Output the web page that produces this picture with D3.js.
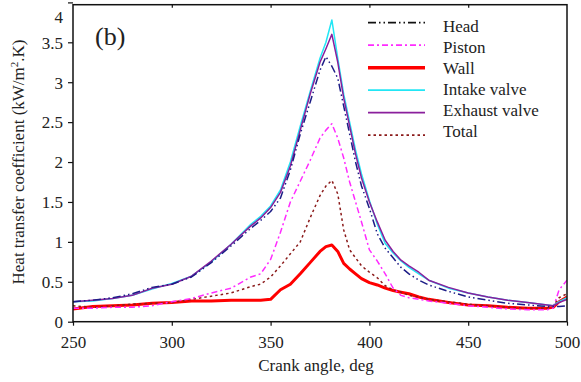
<!DOCTYPE html>
<html>
<head>
<meta charset="utf-8">
<script src="https://cdn.jsdelivr.net/npm/d3@7/dist/d3.min.js"></script>
<style>
  body { margin: 0; background: #fff; }
  svg text { font-family: "Liberation Serif", "Times New Roman", serif; fill: #222; }
</style>
</head>
<body>
<div id="graphicContainer"></div>
<script>

// crank angle samples (deg)
const angles = [250, 260, 270, 280, 290, 300, 310, 320, 330, 340, 345, 350, 355, 360, 365, 370, 375, 378, 381, 384, 387, 390, 393, 396, 400, 404, 408, 412, 416, 420, 425, 430, 440, 450, 460, 470, 480, 490, 493, 496, 500]

// heat transfer coefficient, kW/m2.K
const head    = [0.25, 0.27, 0.30, 0.35, 0.43, 0.47, 0.56, 0.74, 0.95, 1.17, 1.27, 1.38, 1.55, 1.90, 2.35, 2.75, 3.15, 3.32, 3.20, 3.05, 2.70, 2.35, 2.00, 1.70, 1.42, 1.10, 0.92, 0.80, 0.68, 0.60, 0.52, 0.46, 0.38, 0.31, 0.27, 0.23, 0.21, 0.19, 0.19, 0.19, 0.20]
const piston  = [0.17, 0.17, 0.18, 0.18, 0.20, 0.25, 0.29, 0.36, 0.42, 0.56, 0.60, 0.78, 1.12, 1.50, 1.76, 2.02, 2.30, 2.40, 2.48, 2.30, 2.05, 1.75, 1.50, 1.25, 0.90, 0.76, 0.60, 0.42, 0.33, 0.30, 0.28, 0.26, 0.23, 0.20, 0.18, 0.16, 0.15, 0.15, 0.17, 0.40, 0.52]
const wall    = [0.16, 0.19, 0.20, 0.21, 0.23, 0.24, 0.26, 0.26, 0.27, 0.27, 0.27, 0.28, 0.40, 0.47, 0.60, 0.74, 0.88, 0.94, 0.96, 0.88, 0.73, 0.66, 0.60, 0.54, 0.49, 0.46, 0.42, 0.39, 0.37, 0.35, 0.31, 0.28, 0.24, 0.21, 0.20, 0.18, 0.17, 0.17, 0.18, 0.25, 0.31]
const intake  = [0.25, 0.26, 0.29, 0.33, 0.41, 0.48, 0.57, 0.75, 0.97, 1.22, 1.32, 1.45, 1.65, 2.00, 2.45, 2.88, 3.30, 3.50, 3.78, 3.30, 2.85, 2.50, 2.15, 1.85, 1.52, 1.22, 0.98, 0.86, 0.76, 0.68, 0.60, 0.52, 0.42, 0.36, 0.31, 0.27, 0.24, 0.21, 0.20, 0.25, 0.30]
const exhaust = [0.25, 0.27, 0.29, 0.33, 0.42, 0.47, 0.57, 0.76, 0.97, 1.20, 1.30, 1.43, 1.62, 1.95, 2.40, 2.85, 3.25, 3.42, 3.60, 3.25, 2.80, 2.45, 2.10, 1.80, 1.50, 1.25, 1.02, 0.88, 0.77, 0.70, 0.62, 0.52, 0.43, 0.36, 0.31, 0.27, 0.24, 0.21, 0.20, 0.24, 0.28]
const total   = [0.20, 0.18, 0.20, 0.22, 0.23, 0.24, 0.28, 0.32, 0.36, 0.44, 0.47, 0.56, 0.70, 0.85, 1.00, 1.30, 1.58, 1.70, 1.77, 1.60, 1.15, 0.90, 0.80, 0.70, 0.62, 0.55, 0.45, 0.40, 0.37, 0.33, 0.31, 0.28, 0.25, 0.22, 0.20, 0.18, 0.17, 0.17, 0.20, 0.30, 0.35]

const xTicks = [250, 300, 350, 400, 450, 500]
const yTicks = [0, 0.5, 1, 1.5, 2, 2.5, 3, 3.5, 4]

const series = [
  { key: "Head", values: head, color: "#1c1c86", keyColor: "#111", width: 1.5, dash: "8 3 1.5 3 1.5 3" },
  { key: "Piston", values: piston, color: "#ff2bff", keyColor: "#ff2bff", width: 1.5, dash: "6 3 2 3" },
  { key: "Wall", values: wall, color: "#ff0000", keyColor: "#ff0000", width: 3, dash: null },
  { key: "Intake valve", values: intake, color: "#22e6f5", keyColor: "#22e6f5", width: 1.5, dash: null },
  { key: "Exhaust valve", values: exhaust, color: "#8a1f9c", keyColor: "#8a1f9c", width: 1.5, dash: null },
  { key: "Total", values: total, color: "#8b1a1a", keyColor: "#8b1a1a", width: 1.5, dash: "2.5 3" }
]

// draw order: wall at the back, cyan behind purple
const drawOrder = ["Wall", "Total", "Piston", "Intake valve", "Exhaust valve", "Head"]

const width = 581
const height = 382
const marginleft = 73
const marginright = 14
const margintop = 4.7
const marginbottom = 60.3

const svg = d3.select("#graphicContainer")
  .append("svg")
  .attr("width", width)
  .attr("height", height)

const x = d3.scaleLinear()
  .domain([250, 500])
  .range([marginleft, width - marginright])

const y = d3.scaleLinear()
  .domain([0, 4])
  .range([height - marginbottom, 2.4])

const plotTop = margintop
const plotBottom = height - marginbottom

// clip so lines stay inside frame
svg.append("clipPath")
  .attr("id", "plotClip")
  .append("rect")
  .attr("x", marginleft)
  .attr("y", plotTop)
  .attr("width", x(500) - marginleft)
  .attr("height", plotBottom - plotTop)

const line = d3.line()
  .x(d => x(d[0]))
  .y(d => y(d[1]))

const lines = svg.append("g").attr("clip-path", "url(#plotClip)")

drawOrder.forEach(k => {
  const s = series.find(d => d.key == k)
  lines.append("path")
    .datum(angles.map((a, i) => [a, s.values[i]]))
    .attr("fill", "none")
    .attr("stroke", s.color)
    .attr("stroke-width", s.width)
    .attr("stroke-dasharray", s.dash)
    .attr("stroke-linejoin", "round")
    .attr("d", line)
})

// frame
svg.append("rect")
  .attr("x", marginleft)
  .attr("y", plotTop)
  .attr("width", x(500) - marginleft)
  .attr("height", plotBottom - plotTop)
  .attr("fill", "none")
  .attr("stroke", "#111")
  .attr("stroke-width", 1.5)

const yAxis = d3.axisLeft(y)
  .tickValues(yTicks)
  .tickSize(5)
  .tickPadding(5)
  .tickFormat(d => d)

const yG = svg.append("g")
  .attr("class", "y")
  .attr("transform", "translate(" + marginleft + ",0)")
  .call(yAxis)

yG.select(".domain").remove()
yG.selectAll(".tick line").attr("stroke", "#111").attr("stroke-width", 1.2)
yG.selectAll(".tick text")
  .style("font-size", "17px")
  .attr("fill", "#222")
  .attr("dy", d => d == 4 ? "1.2em" : "0.34em")

const xAxis = d3.axisBottom(x)
  .tickValues(xTicks)
  .tickSize(4)
  .tickPadding(10)

const xG = svg.append("g")
  .attr("class", "x")
  .attr("transform", "translate(0," + plotBottom + ")")
  .call(xAxis)

xG.select(".domain").remove()
xG.selectAll(".tick line").attr("stroke", "#111").attr("stroke-width", 1.2)
xG.selectAll(".tick text").style("font-size", "17px").attr("fill", "#222")

// small inward ticks along the top
const topG = svg.append("g")
  .attr("transform", "translate(0," + plotTop + ")")
  .call(d3.axisTop(x).tickValues(xTicks.slice(1, -1)).tickSize(-3).tickFormat(""))

topG.select(".domain").remove()
topG.selectAll(".tick line").attr("stroke", "#111").attr("stroke-width", 1.2)

// axis titles
svg.append("text")
  .attr("x", 316)
  .attr("y", 371)
  .attr("text-anchor", "middle")
  .style("font-size", "17px")
  .text("Crank angle, deg")

const yTitle = svg.append("text")
  .attr("transform", "translate(24,162) rotate(-90)")
  .attr("text-anchor", "middle")
  .style("font-size", "17px")

yTitle.append("tspan").text("Heat transfer coefficient (kW/m")
yTitle.append("tspan").attr("dy", -6).style("font-size", "11px").text("2")
yTitle.append("tspan").attr("dy", 6).text(".K)")

// panel label
svg.append("text")
  .attr("x", 95)
  .attr("y", 45)
  .style("font-size", "26px")
  .text("(b)")

// key
const key = svg.append("g").attr("class", "key")

series.forEach((s, i) => {
  const ly = 22.7 + i * 22.5
  key.append("line")
    .attr("x1", 368)
    .attr("x2", 425)
    .attr("y1", ly)
    .attr("y2", ly)
    .attr("stroke", s.keyColor)
    .attr("stroke-width", s.width == 3 ? 3.5 : 1.8)
    .attr("stroke-dasharray", s.dash)

  key.append("text")
    .attr("x", 443)
    .attr("y", 31.5 + i * 21.1)
    .style("font-size", "17px")
    .text(s.key)
})

</script>
</body>
</html>
